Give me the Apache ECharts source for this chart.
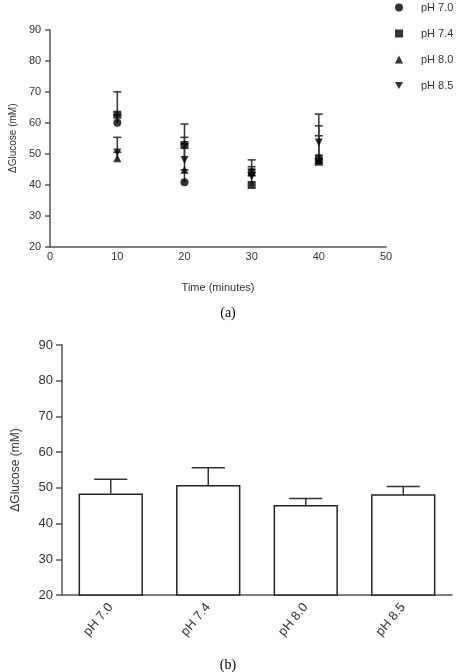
<!DOCTYPE html>
<html>
<head>
<meta charset="utf-8">
<script src="https://cdn.jsdelivr.net/npm/echarts@6/dist/echarts.min.js"></script>
<style>
  html, body { margin: 0; padding: 0; background: #fff; }
  #chart { width: 458px; height: 672px; }
</style>
</head>
<body>
<div id="chart"></div>
<script>
  // panel (a): change in glucose vs time, one series per pH
  var times = [10, 20, 30, 40]
  var phNames = ['pH 7.0', 'pH 7.4', 'pH 8.0', 'pH 8.5']
  var ph70 = [60.0, 40.8, 44.0, 48.5]
  var ph70Err = [2.5, 4.0, 4.0, 10.5]
  var ph74 = [62.6, 52.8, 39.9, 47.4]
  var ph74Err = [7.4, 6.8, 3.0, 15.4]
  var ph80 = [48.5, 44.8, 44.0, 48.0]
  var ph80Err = [2.0, 8.4, 1.0, 1.5]
  var ph85 = [50.4, 48.0, 42.6, 53.6]
  var ph85Err = [4.9, 7.3, 3.2, 2.2]

  // panel (b): mean per pH
  var barValues = [48.4, 50.8, 45.2, 48.2]
  var barErr = [4.0, 4.8, 1.8, 2.2]

  var font = '"Liberation Sans", Arial, sans-serif'
  var axisColor = '#555'
  var textColor = '#333'

  var myChart = echarts.init(document.getElementById('chart'))

  function pairs (vals) {
    return times.map(function (t, i) { return [t, vals[i]] })
  }

  // upper error bar only, like the original plot
  function errorBars (capHalf) {
    return function (params, api) {
      var x = api.value(0)
      var y = api.value(1)
      var e = api.value(2)
      var p0 = api.coord([x, y])
      var p1 = api.coord([x, y + e])
      var half = typeof capHalf === 'function' ? capHalf(api) : capHalf
      var style = {stroke: '#333', lineWidth: 1.5}
      return {
        type: 'group',
        children: [
          {type: 'line', shape: {x1: p0[0], y1: p0[1], x2: p1[0], y2: p1[1]}, style: style},
          {type: 'line', shape: {x1: p1[0] - half, y1: p1[1], x2: p1[0] + half, y2: p1[1]}, style: style}
        ]
      }
    }
  }

  var topErrData = []
  ;[[ph70, ph70Err], [ph74, ph74Err], [ph80, ph80Err], [ph85, ph85Err]].forEach(function (s) {
    times.forEach(function (t, i) { topErrData.push([t, s[0][i], s[1][i]]) })
  })
  var barErrData = barValues.map(function (v, i) { return [i, v, barErr[i]] })

  var scatterBase = {
    type: 'scatter',
    xAxisIndex: 0,
    yAxisIndex: 0,
    symbolSize: 8,
    itemStyle: {color: '#000'},
    z: 5
  }

  myChart.setOption({
    animation: false,
    textStyle: {fontFamily: font},
    legend: {
      orient: 'vertical',
      left: 390,
      top: -3,
      itemWidth: 8,
      itemHeight: 8,
      itemGap: 15,
      textStyle: {fontSize: 11, color: textColor, padding: [0, 0, 0, 13]},
      data: [
        {name: phNames[0], icon: 'circle'},
        {name: phNames[1], icon: 'rect'},
        {name: phNames[2], icon: 'triangle'},
        {name: phNames[3], icon: 'path://M0,0L10,0L5,9Z'}
      ]
    },
    grid: [
      {left: 50, right: 72, top: 30, bottom: 425.5},
      {left: 62, right: 6, top: 345, bottom: 77}
    ],
    xAxis: [
      {
        gridIndex: 0,
        type: 'value',
        min: 0,
        max: 50,
        interval: 10,
        name: 'Time (minutes)',
        nameLocation: 'middle',
        nameGap: 36,
        nameTextStyle: {fontSize: 11, color: textColor},
        axisLine: {lineStyle: {color: axisColor, width: 1.5}},
        axisTick: {show: false},
        splitLine: {show: false},
        axisLabel: {fontSize: 11, color: textColor, margin: 5}
      },
      {
        gridIndex: 1,
        type: 'category',
        data: phNames,
        axisLine: {lineStyle: {color: axisColor, width: 1.5}},
        axisTick: {show: false},
        axisLabel: {fontSize: 13, color: textColor, rotate: 50, margin: 10}
      }
    ],
    yAxis: [
      {
        gridIndex: 0,
        type: 'value',
        min: 20,
        max: 90,
        interval: 10,
        name: 'ΔGlucose (mM)',
        nameLocation: 'middle',
        nameGap: 32,
        nameTextStyle: {fontSize: 10, color: textColor},
        axisLine: {show: true, lineStyle: {color: axisColor, width: 1.5}},
        axisTick: {show: true, length: 5, lineStyle: {color: axisColor, width: 1.5}},
        splitLine: {show: false},
        axisLabel: {fontSize: 11, color: textColor, margin: 9}
      },
      {
        gridIndex: 1,
        type: 'value',
        min: 20,
        max: 90,
        interval: 10,
        name: 'ΔGlucose (mM)',
        nameLocation: 'middle',
        nameGap: 40,
        nameTextStyle: {fontSize: 12, color: textColor},
        axisLine: {show: true, lineStyle: {color: axisColor, width: 1.5}},
        axisTick: {show: true, length: 6, lineStyle: {color: axisColor, width: 1.5}},
        splitLine: {show: false},
        axisLabel: {fontSize: 13, color: textColor, margin: 9}
      }
    ],
    graphic: [
      {type: 'text', x: 228, y: 313, style: {text: '(a)', font: '14px "Liberation Serif", serif', fill: '#000', align: 'center', verticalAlign: 'middle'}},
      {type: 'text', x: 228, y: 665, style: {text: '(b)', font: '14px "Liberation Serif", serif', fill: '#000', align: 'center', verticalAlign: 'middle'}}
    ],
    series: [
      {
        type: 'custom',
        xAxisIndex: 0,
        yAxisIndex: 0,
        renderItem: errorBars(4),
        data: topErrData,
        z: 3
      },
      Object.assign({}, scatterBase, {name: phNames[0], symbol: 'circle', data: pairs(ph70)}),
      Object.assign({}, scatterBase, {name: phNames[1], symbol: 'rect', data: pairs(ph74)}),
      Object.assign({}, scatterBase, {name: phNames[2], symbol: 'triangle', data: pairs(ph80)}),
      Object.assign({}, scatterBase, {name: phNames[3], symbol: 'triangle', symbolRotate: 180, data: pairs(ph85)}),
      {
        type: 'bar',
        xAxisIndex: 1,
        yAxisIndex: 1,
        barWidth: '66%',
        data: barValues,
        itemStyle: {color: '#fff', borderColor: '#222', borderWidth: 1.5},
        z: 2
      },
      {
        type: 'custom',
        xAxisIndex: 1,
        yAxisIndex: 1,
        renderItem: errorBars(function (api) { return api.size([1, 0])[0] * 0.17 }),
        data: barErrData,
        z: 1
      }
    ]
  })
</script>
</body>
</html>
